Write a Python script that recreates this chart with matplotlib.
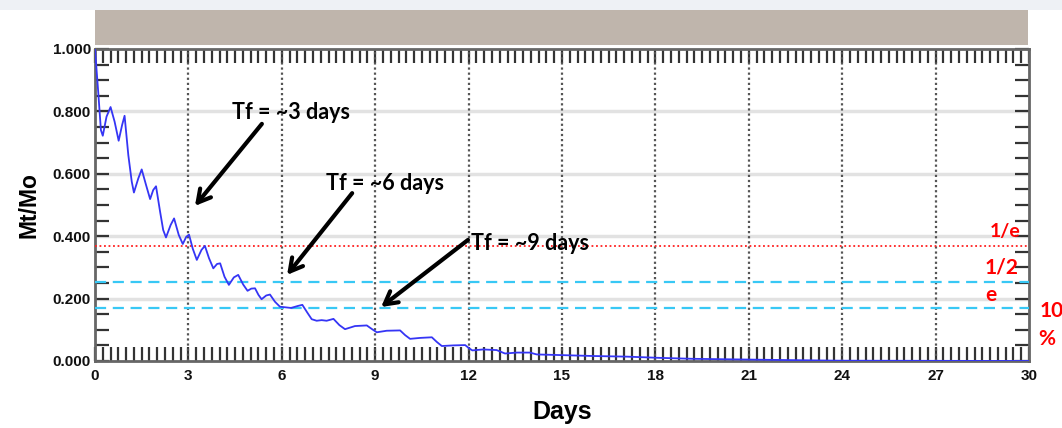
import matplotlib
matplotlib.use("Agg")
import matplotlib.pyplot as plt
from matplotlib.ticker import MultipleLocator, FormatStrFormatter
from matplotlib.patches import Rectangle

# ---- data ----
days = [0, 0.11, 0.19, 0.25, 0.37, 0.50, 0.63, 0.76, 0.87, 0.95, 1.07, 1.18, 1.25,
        1.39, 1.50, 1.64, 1.77, 1.87, 1.96, 2.09, 2.19, 2.28, 2.43, 2.54, 2.69,
        2.82, 2.93, 3.02, 3.14, 3.27, 3.42, 3.53, 3.66, 3.80, 3.92, 4.02, 4.16,
        4.30, 4.46, 4.60, 4.76, 4.90, 5.02, 5.14, 5.25, 5.35, 5.50, 5.62, 5.78,
        5.94, 6.30, 6.50, 6.66, 6.82, 6.96, 7.12, 7.28, 7.44, 7.66, 7.85, 8.03,
        8.35, 8.73, 8.90, 9.05, 9.37, 9.80, 9.96, 10.12, 10.44, 10.82, 10.98,
        11.14, 11.51, 11.89, 12.00, 12.12, 12.47, 12.90, 13.17, 13.55, 13.97,
        14.19, 14.94, 16.0, 17.08, 18.15, 19.2, 20.7, 21.4, 23.9, 27.0, 30.0]
mt_mo = [1.0, 0.853, 0.740, 0.722, 0.783, 0.814, 0.767, 0.706, 0.756, 0.786,
         0.660, 0.575, 0.540, 0.585, 0.614, 0.564, 0.519, 0.548, 0.560, 0.479,
         0.420, 0.396, 0.436, 0.457, 0.404, 0.375, 0.398, 0.405, 0.360, 0.324,
         0.356, 0.369, 0.330, 0.297, 0.311, 0.313, 0.270, 0.244, 0.268, 0.276,
         0.245, 0.225, 0.232, 0.233, 0.212, 0.198, 0.210, 0.213, 0.190, 0.174,
         0.170, 0.176, 0.180, 0.155, 0.134, 0.129, 0.131, 0.129, 0.135, 0.115,
         0.102, 0.112, 0.114, 0.102, 0.092, 0.097, 0.098, 0.083, 0.071, 0.074,
         0.076, 0.061, 0.048, 0.050, 0.051, 0.042, 0.034, 0.037, 0.035, 0.024,
         0.027, 0.027, 0.021, 0.019, 0.016, 0.014, 0.010, 0.007, 0.005, 0.004,
         0.001, 0.0005, 0.0]

inv_e_level = 0.368
half_level = 0.252
tenth_level = 0.169

x_ticks = [0, 3, 6, 9, 12, 15, 18, 21, 24, 27, 30]
y_ticks = [0.0, 0.2, 0.4, 0.6, 0.8, 1.0]

annotations = [  # (text, text_xy, arrow_start, arrow_tip)
    ("Tf = ~3 days", (6.30, 0.795), (5.36, 0.760), (3.21, 0.497)),
    ("Tf = ~6 days", (9.30, 0.570), (8.26, 0.538), (6.17, 0.276)),
    ("Tf = ~9 days", (13.97, 0.377), (11.98, 0.388), (9.19, 0.173)),
]

W, H = 1062, 428
fig = plt.figure(figsize=(W / 100, H / 100), dpi=100)
fig.patch.set_facecolor("white")

def fx(px):
    return px / W

def fy(py):
    return 1 - py / H

# background strips
fig.patches.append(Rectangle((0, fy(10)), 1, fy(0) - fy(10), transform=fig.transFigure,
                             facecolor="#eef1f5", edgecolor="none", zorder=0))
fig.patches.append(Rectangle((fx(95), fy(45)), fx(1028) - fx(95), fy(10) - fy(45),
                             transform=fig.transFigure, facecolor="#bfb5ac",
                             edgecolor="none", zorder=1))

ax = fig.add_axes([fx(95), fy(361), fx(1029) - fx(95), fy(49) - fy(361)])
ax.set_xlim(0, 30)
ax.set_ylim(0, 1.0)

# grid
for y in y_ticks[1:-1]:
    ax.axhline(y, color="#e2e2e2", lw=2.5, zorder=1)
for x in x_ticks[1:-1]:
    ax.axvline(x, color="#555555", lw=1.6, ls=(0, (1, 1.3)), zorder=2)

# threshold lines
ax.axhline(inv_e_level, color="#ff2020", lw=1.3, ls=(0, (1, 1.5)), zorder=3)
ax.axhline(half_level, color="#38c8f5", lw=1.6, ls=(0, (5, 3)), zorder=3)
ax.axhline(tenth_level, color="#38c8f5", lw=1.6, ls=(0, (5, 3)), zorder=3)

ax.plot(days, mt_mo, color="#3535f5", lw=1.3, zorder=4, solid_joinstyle="round")

# ticks
ax.xaxis.set_major_locator(MultipleLocator(3))
ax.xaxis.set_minor_locator(MultipleLocator(0.25))
ax.yaxis.set_major_locator(MultipleLocator(0.2))
ax.yaxis.set_minor_locator(MultipleLocator(0.05))
ax.yaxis.set_major_formatter(FormatStrFormatter("%.3f"))
ax.tick_params(which="both", direction="in", top=True, right=True, length=10,
               width=1.6, color="#333333")
ax.tick_params(which="major", labelsize=11, pad=6)
for lab in ax.get_xticklabels() + ax.get_yticklabels():
    lab.set_fontweight("bold")
    lab.set_family("Liberation Sans")
    lab.set_color("#111111")
ax.tick_params(axis="y", which="major", pad=3)

for s in ax.spines.values():
    s.set_color("#666666")
    s.set_linewidth(2)

ax.set_xlabel("Days", fontsize=18, fontweight="bold", family="Liberation Sans", labelpad=12)
ax.set_ylabel("Mt/Mo", fontsize=16.5, fontweight="bold", family="Liberation Sans", labelpad=9)

for txt, txy, start, tip in annotations:
    ax.text(txy[0], txy[1], txt, fontsize=15.5, fontweight="bold", family="Lato",
            ha="center", va="center", zorder=6)
    ax.annotate("", xy=tip, xytext=start,
                arrowprops=dict(arrowstyle="->,head_length=0.9,head_width=0.5",
                                lw=3, color="black", shrinkA=0, shrinkB=0), zorder=6)

# red labels on the right
red = "#ff0000"
fig.text(fx(1005), fy(231), "1/e", color=red, fontsize=14, fontweight="bold",
         family="Lato", ha="center", va="center")
fig.text(fx(1002), fy(267), "1/2", color=red, fontsize=15, fontweight="bold",
         family="Lato", ha="center", va="center")
fig.text(fx(991), fy(295), "e", color=red, fontsize=15, fontweight="bold",
         family="Lato", ha="center", va="center")
fig.text(fx(1040), fy(311), "10", color=red, fontsize=15, fontweight="bold",
         family="Lato", ha="left", va="center")
fig.text(fx(1047), fy(339), "%", color=red, fontsize=15, fontweight="bold",
         family="Lato", ha="center", va="center")

fig.savefig("out.png", dpi=100)
